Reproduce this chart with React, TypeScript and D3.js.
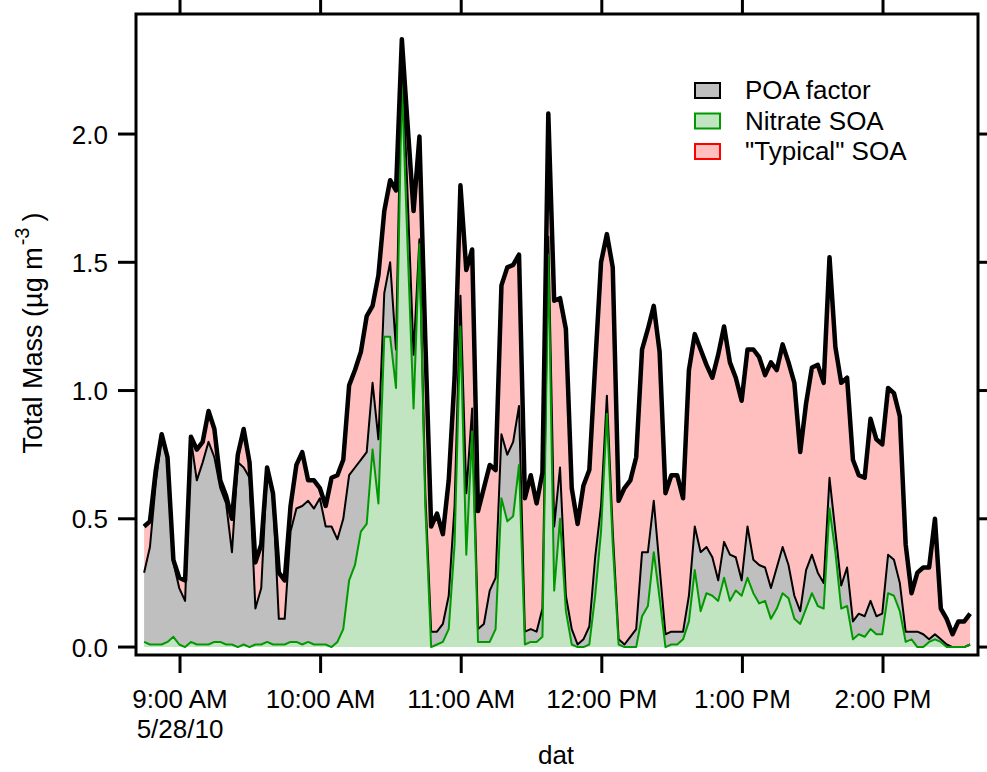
//@ts-nocheck
import { useEffect, useRef } from 'react';
import * as d3 from 'd3';

// instrument samples every 2.5 min, first one at 8:44:40
const startTime = new Date(2010, 4, 28, 8, 44, 40);
const stepMinutes = 2.5;

// stacked components (ug m-3), bottom to top
const nitrateSOA = [
    0.02, 0.01, 0.01, 0.01, 0.02, 0.04, 0.01, 0.00, 0.02, 0.01,
    0.01, 0.01, 0.02, 0.02, 0.01, 0.01, 0.00, 0.01, 0.00, 0.01,
    0.01, 0.02, 0.01, 0.01, 0.01, 0.02, 0.02, 0.01, 0.02, 0.01,
    0.01, 0.01, 0.00, 0.02, 0.07, 0.26, 0.32, 0.45, 0.48, 0.77,
    0.56, 1.21, 1.21, 1.01, 2.20, 1.55, 0.93, 1.57, 0.55, 0.00,
    0.01, 0.02, 0.07, 0.40, 1.25, 0.36, 0.84, 0.02, 0.02, 0.02,
    0.07, 0.58, 0.49, 0.51, 0.71, 0.01, 0.02, 0.02, 0.04, 1.53,
    0.22, 0.50, 0.14, 0.01, 0.00, 0.00, 0.01, 0.20, 0.45, 0.91,
    0.40, 0.01, 0.00, 0.00, 0.00, 0.12, 0.16, 0.37, 0.19, 0.00,
    0.01, 0.01, 0.03, 0.10, 0.30, 0.14, 0.21, 0.20, 0.18, 0.27,
    0.18, 0.22, 0.20, 0.27, 0.21, 0.17, 0.18, 0.11, 0.15, 0.21,
    0.19, 0.11, 0.09, 0.15, 0.21, 0.16, 0.15, 0.54, 0.37, 0.15,
    0.16, 0.03, 0.05, 0.04, 0.07, 0.05, 0.05, 0.21, 0.20, 0.14,
    0.02, 0.03, 0.00, 0.00, 0.02, 0.03, 0.02, 0.00, 0.00, 0.00,
    0.00, 0.01,
];

const poaFactor = [
    0.27, 0.38, 0.63, 0.81, 0.71, 0.29, 0.22, 0.18, 0.79, 0.64,
    0.71, 0.79, 0.72, 0.60, 0.55, 0.36, 0.72, 0.69, 0.66, 0.14,
    0.22, 0.67, 0.58, 0.10, 0.10, 0.43, 0.52, 0.54, 0.55, 0.53,
    0.57, 0.46, 0.47, 0.40, 0.43, 0.41, 0.38, 0.28, 0.28, 0.26,
    0.25, 0.17, 0.29, 0.15, 0.14, 0.20, 0.21, 0.02, 0.05, 0.06,
    0.05, 0.07, 0.13, 0.15, 0.12, 0.24, 0.09, 0.05, 0.07, 0.20,
    0.20, 0.25, 0.26, 0.29, 0.23, 0.05, 0.05, 0.04, 0.11, 0.07,
    0.25, 0.20, 0.06, 0.06, 0.01, 0.03, 0.07, 0.15, 0.10, 0.07,
    0.05, 0.02, 0.01, 0.04, 0.07, 0.25, 0.21, 0.20, 0.12, 0.05,
    0.05, 0.05, 0.03, 0.10, 0.17, 0.23, 0.18, 0.15, 0.08, 0.14,
    0.18, 0.13, 0.06, 0.20, 0.13, 0.15, 0.13, 0.12, 0.16, 0.18,
    0.13, 0.09, 0.05, 0.15, 0.15, 0.13, 0.10, 0.12, 0.08, 0.09,
    0.15, 0.07, 0.08, 0.08, 0.11, 0.07, 0.08, 0.15, 0.14, 0.11,
    0.04, 0.03, 0.06, 0.05, 0.01, 0.02, 0.01, 0.01, 0.00, 0.00,
    0.00, 0.00,
];

const typicalSOA = [
    0.18, 0.10, 0.05, 0.01, 0.01, 0.01, 0.04, 0.08, 0.01, 0.12,
    0.08, 0.12, 0.11, 0.03, 0.03, 0.13, 0.03, 0.15, 0.06, 0.18,
    0.17, 0.01, 0.01, 0.18, 0.15, 0.10, 0.17, 0.21, 0.08, 0.11,
    0.04, 0.08, 0.19, 0.25, 0.23, 0.35, 0.38, 0.42, 0.53, 0.30,
    0.64, 0.32, 0.32, 0.62, 0.03, 0.28, 0.56, 0.40, 0.60, 0.41,
    0.46, 0.35, 0.45, 0.50, 0.43, 0.87, 0.62, 0.46, 0.53, 0.49,
    0.42, 0.58, 0.73, 0.69, 0.59, 0.52, 0.60, 0.50, 0.53, 0.48,
    0.88, 0.66, 1.04, 0.55, 0.47, 0.60, 0.61, 0.75, 0.95, 0.63,
    1.03, 0.54, 0.61, 0.61, 0.67, 0.79, 0.87, 0.76, 0.84, 0.55,
    0.61, 0.61, 0.52, 0.88, 0.75, 0.79, 0.71, 0.70, 0.88, 0.84,
    0.75, 0.70, 0.70, 0.69, 0.82, 0.81, 0.75, 0.88, 0.77, 0.79,
    0.79, 0.83, 0.62, 0.65, 0.73, 0.81, 0.78, 0.86, 0.72, 0.79,
    0.74, 0.63, 0.54, 0.54, 0.71, 0.69, 0.66, 0.65, 0.65, 0.65,
    0.34, 0.15, 0.23, 0.26, 0.28, 0.45, 0.12, 0.10, 0.05, 0.10,
    0.10, 0.12,
];

const yTicks = [0, 0.5, 1.0, 1.5, 2.0];
const xTickHours = [9, 10, 11, 12, 13, 14];
const xTickLabels = ['9:00 AM', '10:00 AM', '11:00 AM', '12:00 PM', '1:00 PM', '2:00 PM'];
const legendLabels = ['POA factor', 'Nitrate SOA', '"Typical" SOA'];

const FONT = '"Liberation Sans", Arial, sans-serif';
const FS = '26px';

const App = () => {
    const svgRef = useRef();

    useEffect(() => {
        const svg = d3.select(svgRef.current);
        svg.selectAll('*').remove();

        const left = 136, right = 978, top = 14, bottom = 655;

        const times = nitrateSOA.map((_, i) => new Date(startTime.getTime() + i * stepMinutes * 60000));
        const rows = times.map((t, i) => {
            const n = nitrateSOA[i];
            const g = n + poaFactor[i];
            return { t, n, g, total: g + typicalSOA[i] };
        });

        const x = d3.scaleTime()
            .domain([new Date(2010, 4, 28, 8, 41, 13), new Date(2010, 4, 28, 14, 40, 32)])
            .range([left, right]);
        const y = d3.scaleLinear().domain([-0.031, 2.468]).range([bottom, top]);

        svg.append('defs').append('clipPath').attr('id', 'plotClip')
            .append('rect')
            .attr('x', left).attr('y', top)
            .attr('width', right - left).attr('height', bottom - top);

        const plot = svg.append('g').attr('clip-path', 'url(#plotClip)');

        // areas: pink to total, gray to POA top, green to nitrate top
        plot.append('path')
            .attr('d', d3.area().x(d => x(d.t)).y0(d => y(d.g)).y1(d => y(d.total))(rows))
            .attr('fill', '#ffbfbf');
        plot.append('path')
            .attr('d', d3.area().x(d => x(d.t)).y0(d => y(d.n)).y1(d => y(d.g))(rows))
            .attr('fill', '#bfbfbf');
        plot.append('path')
            .attr('d', d3.area().x(d => x(d.t)).y0(y(0)).y1(d => y(d.n))(rows))
            .attr('fill', '#c1e4c1');

        // lines on top
        plot.append('path')
            .attr('d', d3.line().x(d => x(d.t)).y(d => y(d.g))(rows))
            .attr('fill', 'none').attr('stroke', '#000').attr('stroke-width', 2)
            .attr('stroke-linejoin', 'round');
        plot.append('path')
            .attr('d', d3.line().x(d => x(d.t)).y(d => y(d.n))(rows))
            .attr('fill', 'none').attr('stroke', '#009a00').attr('stroke-width', 2)
            .attr('stroke-linejoin', 'round');
        plot.append('path')
            .attr('d', d3.line().x(d => x(d.t)).y(d => y(d.total))(rows))
            .attr('fill', 'none').attr('stroke', '#000').attr('stroke-width', 4.5)
            .attr('stroke-linejoin', 'round');

        // frame
        svg.append('rect')
            .attr('x', left).attr('y', top)
            .attr('width', right - left).attr('height', bottom - top)
            .attr('fill', 'none').attr('stroke', '#000').attr('stroke-width', 3);

        // y ticks, left and mirrored right
        yTicks.forEach(v => {
            svg.append('line').attr('x1', left - 18).attr('x2', left)
                .attr('y1', y(v)).attr('y2', y(v)).attr('stroke', '#000').attr('stroke-width', 3);
            svg.append('line').attr('x1', right).attr('x2', right + 18)
                .attr('y1', y(v)).attr('y2', y(v)).attr('stroke', '#000').attr('stroke-width', 3);
            svg.append('text')
                .attr('x', 108).attr('y', y(v) + 9.5)
                .attr('text-anchor', 'end')
                .style('font-family', FONT).style('font-size', FS)
                .text(v.toFixed(1));
        });

        // x ticks, bottom and mirrored top
        xTickHours.forEach((h, i) => {
            const px = x(new Date(2010, 4, 28, h, 0, 0));
            svg.append('line').attr('x1', px).attr('x2', px)
                .attr('y1', bottom).attr('y2', bottom + 18).attr('stroke', '#000').attr('stroke-width', 3);
            svg.append('line').attr('x1', px).attr('x2', px)
                .attr('y1', 0).attr('y2', top).attr('stroke', '#000').attr('stroke-width', 3);
            svg.append('text')
                .attr('x', px).attr('y', 708)
                .attr('text-anchor', 'middle')
                .style('font-family', FONT).style('font-size', FS)
                .text(xTickLabels[i]);
        });
        svg.append('text')
            .attr('x', x(new Date(2010, 4, 28, 9, 0, 0))).attr('y', 738)
            .attr('text-anchor', 'middle')
            .style('font-family', FONT).style('font-size', FS)
            .text('5/28/10');

        // axis titles
        svg.append('text')
            .attr('x', 556).attr('y', 764)
            .attr('text-anchor', 'middle')
            .style('font-family', FONT).style('font-size', FS)
            .text('dat');

        const yTitle = svg.append('text')
            .attr('transform', 'translate(42, 333) rotate(-90)')
            .attr('text-anchor', 'middle')
            .style('font-family', FONT).style('font-size', '27px');
        yTitle.append('tspan').text('Total Mass (\u00b5g m');
        yTitle.append('tspan').attr('dx', 2).attr('dy', -13).style('font-size', '20px').text('-3');
        yTitle.append('tspan').attr('dx', 6).attr('dy', 13).text(')');

        // legend
        const swatches = [
            { fill: '#bfbfbf', stroke: '#000' },
            { fill: '#c1e4c1', stroke: '#009a00' },
            { fill: '#ffbfbf', stroke: '#ff0000' },
        ];
        legendLabels.forEach((label, i) => {
            const ly = 83 + i * 30.5;
            svg.append('rect')
                .attr('x', 695).attr('y', ly)
                .attr('width', 25).attr('height', 15)
                .attr('fill', swatches[i].fill)
                .attr('stroke', swatches[i].stroke).attr('stroke-width', 2);
            svg.append('text')
                .attr('x', 745).attr('y', ly + 16)
                .style('font-family', FONT).style('font-size', FS)
                .text(label);
        });
    }, []);

    return (
        <svg ref={svgRef} width={987} height={772}
            style={{ position: 'absolute', left: 0, top: 0, background: '#fff' }}></svg>
    );
};

export default App;
